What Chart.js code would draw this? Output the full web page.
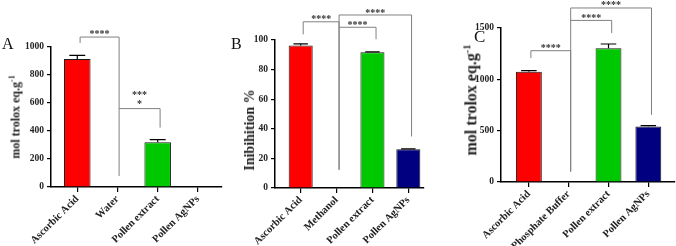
<!DOCTYPE html>
<html>
<head>
<meta charset="utf-8">
<script src="https://cdn.jsdelivr.net/npm/chart.js@4.4.1/dist/chart.umd.min.js"></script>
<style>
  body { margin: 0; background: #fff; width: 676px; height: 246px; overflow: hidden; position: relative; font-family: 'Liberation Serif', 'Times New Roman', serif; }
  .panel { position: absolute; top: 0; height: 246px; }
  .letter { position: absolute; font-size: 16px; line-height: 1; color: #111; }
  .ytitle { position: absolute; font-weight: bold; white-space: nowrap; color: #222; line-height: 1;
            transform: translate(-50%, -50%) rotate(-90deg); }
  .ytitle sup { font-size: 65%; }
</style>
</head>
<body>
<canvas id="chartA" class="panel" width="228" height="246" style="left:0"></canvas>
<canvas id="chartB" class="panel" width="222" height="246" style="left:228px"></canvas>
<canvas id="chartC" class="panel" width="226" height="246" style="left:450px"></canvas>

<div class="letter" style="left:2px;top:36px">A</div>
<div class="letter" style="left:231px;top:36px">B</div>
<div class="letter" style="left:474px;top:28px;font-size:17px">C</div>

<div class="ytitle" style="left:15px;top:117px;font-size:12px">mol trolox eq.g<sup>-1</sup></div>
<div class="ytitle" style="left:250px;top:130px;font-size:14px">Inibihition %</div>
<div class="ytitle" style="left:471px;top:100px;font-size:16px">mol trolox eq.g<sup>-1</sup></div>

<script>
// Panel A - mol trolox eq.g-1
const labelsA = ['Ascorbic Acid', 'Water', 'Pollen extract', 'Pollen AgNPs'];
const valuesA = [915, null, 319, null];
const errorsA = [25, 0, 20, 0];

// Panel B - inhibition %
const labelsB = ['Ascorbic Acid', 'Methanol', 'Pollen extract', 'Pollen AgNPs'];
const valuesB = [96.2, null, 91.7, 26.1];
const errorsB = [1.2, 0, 0.3, 0.3];

// Panel C - mol trolox eq.g-1
const labelsC = ['Ascorbic Acid', 'Phosphate Buffer', 'Pollen extract', 'Pollen AgNPs'];
const valuesC = [1073, null, 1302, 541];
const errorsC = [12, 0, 42, 8];

const barColors = ['#ff0000', '#00c800', '#00c800', '#000080'];

// significance brackets: category index (from/to), value of the bar line,
// where each leg stops (null = no leg), star text and its value
const bracketsA = [
  { from: 0.07, to: 1.04, y: 1071, leftEnd: 1029, rightEnd: 79, text: ['****'], textY: [1114] },
  { from: 1.04, to: 2.06, y: 560, leftEnd: null, rightEnd: 424, text: ['***', '*'], textY: [679, 614] }
];
const bracketsB = [
  { from: 0.07, to: 1.07, y: 112.3, leftEnd: 103.8, rightEnd: 12.3, text: ['****'], textY: [116.2] },
  { from: 1.07, to: 2.1, y: 108.6, leftEnd: null, rightEnd: 100.5, text: ['****'], textY: [112.1] },
  { from: 1.07, to: 3.09, y: 116.9, leftEnd: 12.3, rightEnd: 34.8, text: ['****'], textY: [120.2] }
];
const bracketsC = [
  { from: 0.05, to: 1.05, y: 1279, leftEnd: 1207, rightEnd: 100, text: ['****'], textY: [1337] },
  { from: 1.05, to: 2.08, y: 1574, leftEnd: null, rightEnd: 1451, text: ['****'], textY: [1630] },
  { from: 1.05, to: 3.08, y: 1695, leftEnd: 100, rightEnd: 654, text: ['****'], textY: [1757] }
];

const serif = "'Liberation Serif', 'Times New Roman', serif";

// error bars + brackets drawn on top of the bars
const extras = {
  id: 'extras',
  afterDatasetsDraw(chart, args, opts) {
    const { ctx } = chart;
    const x = chart.scales.x, y = chart.scales.y;
    const meta = chart.getDatasetMeta(0);
    const data = chart.data.datasets[0].data;
    ctx.save();

    ctx.strokeStyle = '#000';
    ctx.lineWidth = 1.2;
    opts.errors.forEach((e, i) => {
      if (data[i] == null || !e) return;
      const bar = meta.data[i];
      const y0 = y.getPixelForValue(data[i]);
      const y1 = y.getPixelForValue(data[i] + e);
      const half = bar.width * 0.3;
      ctx.beginPath();
      ctx.moveTo(bar.x, y0);
      ctx.lineTo(bar.x, y1);
      ctx.moveTo(bar.x - half, y1);
      ctx.lineTo(bar.x + half, y1);
      ctx.stroke();
    });

    ctx.strokeStyle = '#808080';
    ctx.lineWidth = 1;
    ctx.fillStyle = '#333';
    ctx.font = 'bold 10px ' + serif;
    ctx.textAlign = 'center';
    ctx.textBaseline = 'alphabetic';
    opts.brackets.forEach(b => {
      const x1 = x.getPixelForValue(b.from);
      const x2 = x.getPixelForValue(b.to);
      const yy = y.getPixelForValue(b.y);
      ctx.beginPath();
      if (b.leftEnd != null) {
        ctx.moveTo(x1, y.getPixelForValue(b.leftEnd));
        ctx.lineTo(x1, yy);
      } else {
        ctx.moveTo(x1, yy);
      }
      ctx.lineTo(x2, yy);
      if (b.rightEnd != null) ctx.lineTo(x2, y.getPixelForValue(b.rightEnd));
      ctx.stroke();
      b.text.forEach((t, k) => {
        ctx.fillText(t, (x1 + x2) / 2, y.getPixelForValue(b.textY[k]) + 6);
      });
    });
    ctx.restore();
  }
};

function makeChart(id, labels, values, errors, brackets, opt) {
  return new Chart(document.getElementById(id), {
    type: 'bar',
    data: {
      labels: labels,
      datasets: [{
        data: values,
        backgroundColor: barColors,
        borderColor: '#1a1a1a',
        borderWidth: 1,
        categoryPercentage: 1,
        barPercentage: opt.barPct
      }]
    },
    options: {
      responsive: false,
      animation: false,
      devicePixelRatio: 1,
      layout: { padding: { top: opt.top, right: opt.right, left: 0, bottom: 0 } },
      plugins: {
        legend: { display: false },
        tooltip: { enabled: false },
        extras: { errors: errors, brackets: brackets }
      },
      scales: {
        x: {
          type: 'category',
          offset: true,
          // GraphPad style gap between the y axis and the first bar
          afterBuildTicks: s => {
            s._startValue = opt.range[0];
            s._valueRange = opt.range[1] - opt.range[0];
          },
          afterFit: s => { s.height = opt.xHeight; },
          border: { color: '#000', width: 1.5 },
          grid: { offset: false, drawOnChartArea: false, drawTicks: true, tickLength: 5, color: '#000', lineWidth: 1.2 },
          ticks: {
            autoSkip: false, minRotation: 45, maxRotation: 45, padding: 1,
            color: '#222', font: { family: serif, size: 10.5, weight: 'bold' }
          }
        },
        y: {
          min: 0,
          max: opt.max,
          afterFit: s => { s.width = opt.yWidth; },
          border: { color: '#000', width: 1.5 },
          grid: { drawOnChartArea: false, drawTicks: true, tickLength: 4, color: '#000', lineWidth: 1.2 },
          ticks: {
            stepSize: opt.step, padding: 3,
            callback: v => String(v),
            color: '#222', font: { family: serif, size: 9.5, weight: 'bold' }
          }
        }
      }
    },
    plugins: [extras]
  });
}

makeChart('chartA', labelsA, valuesA, errorsA, bracketsA,
  { max: 1000, step: 200, top: 47, right: 6, yWidth: 51, xHeight: 59, range: [-0.654, 3.6], barPct: 0.66 });
makeChart('chartB', labelsB, valuesB, errorsB, bracketsB,
  { max: 100, step: 20, top: 40, right: 26, yWidth: 47, xHeight: 58, range: [-0.716, 3.437], barPct: 0.67 });
makeChart('chartC', labelsC, valuesC, errorsC, bracketsC,
  { max: 1500, step: 500, top: 28, right: 1, yWidth: 51, xHeight: 64, range: [-0.70, 3.67], barPct: 0.65 });
</script>
</body>
</html>
